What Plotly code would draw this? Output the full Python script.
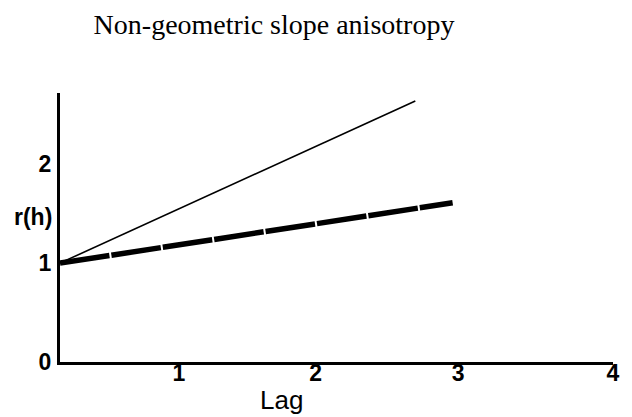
import plotly.graph_objects as go

# Data
lag_thin = [0.0, 2.57]
r_thin = [1.0, 2.64]
lag_thick = [0.0, 2.84]
r_thick = [1.0, 1.61]

x_tick_vals = [0.86, 1.85, 2.88, 4.0]
x_tick_text = ["1", "2", "3", "4"]
y_tick_vals = [0, 1, 2]
y_tick_text = ["0", "1", "2"]

W, H = 632, 417
ML, MR, MT, MB = 60, 12, 93, 55

fig = go.Figure()
fig.add_trace(go.Scatter(x=lag_thin, y=r_thin, mode="lines",
                         line=dict(color="black", width=1.6), showlegend=False))
fig.add_trace(go.Scatter(x=lag_thick, y=r_thick, mode="lines",
                         line=dict(color="black", width=5.5, dash="50px,2px"),
                         showlegend=False))

axis_font = dict(family="Liberation Sans, Arial, sans-serif", size=23, color="black",
                 weight="bold")
label_font = dict(family="Liberation Sans, Arial, sans-serif", size=26, color="black")

fig.update_layout(
    width=W, height=H,
    margin=dict(l=ML, r=MR, t=MT, b=MB),
    paper_bgcolor="white", plot_bgcolor="white",
    title=dict(text="Non-geometric slope anisotropy",
               font=dict(family="Liberation Serif, Times New Roman, serif", size=28, color="black"),
               x=274 / W, xanchor="center", xref="container",
               y=1 - 24 / H, yanchor="middle", yref="container"),
    xaxis=dict(range=[0, 4], showgrid=False, zeroline=False,
               showline=True, linecolor="black", linewidth=3,
               tickvals=x_tick_vals, ticktext=x_tick_text,
               ticks="", tickfont=axis_font, ticklabelstandoff=-12),
    yaxis=dict(range=[0, 2.72], showgrid=False, zeroline=False,
               showline=True, linecolor="black", linewidth=3,
               tickvals=y_tick_vals, ticktext=y_tick_text,
               ticks="", tickfont=axis_font, ticklabelstandoff=1),
    annotations=[
        dict(text="Lag", xref="paper", yref="paper",
             x=(284 - ML) / (W - ML - MR), y=(H - MB - 400) / (H - MT - MB),
             xanchor="center", yanchor="middle", showarrow=False, font=label_font),
        dict(text="r(h)", xref="paper", yref="paper",
             x=(33 - ML) / (W - ML - MR), y=(H - MB - 217) / (H - MT - MB),
             xanchor="center", yanchor="middle", showarrow=False, font=axis_font),
    ],
)

fig.write_html("out.html")
